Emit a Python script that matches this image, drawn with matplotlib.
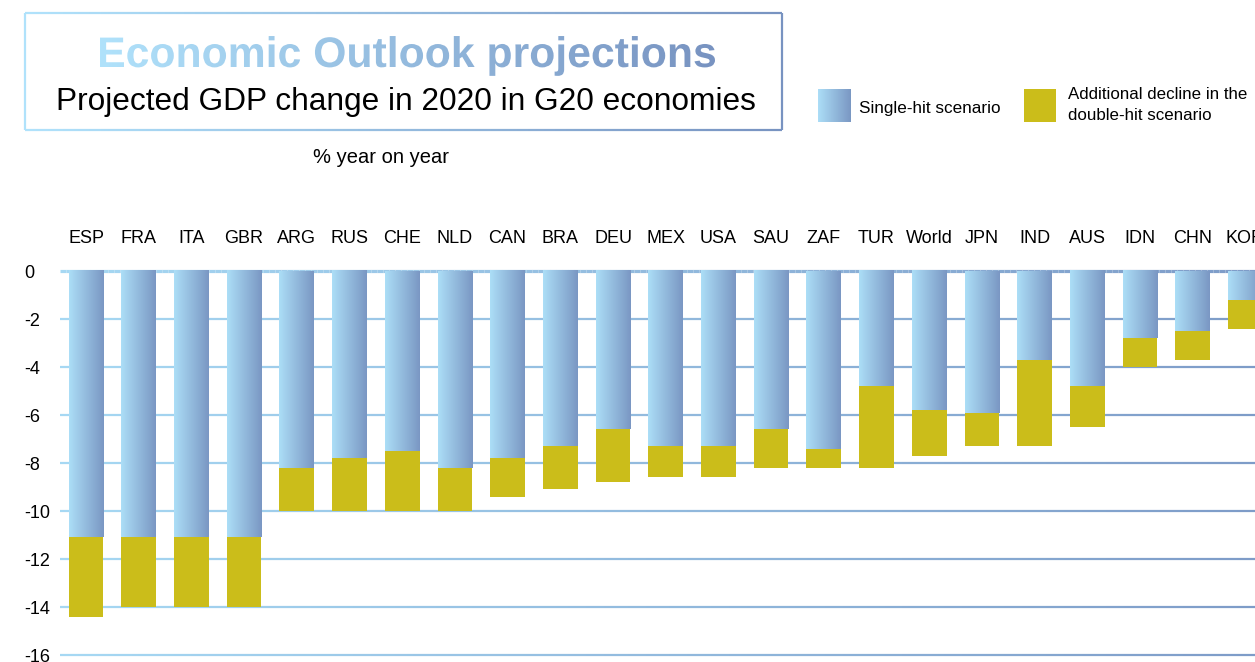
import numpy as np
import matplotlib
matplotlib.use('Agg')
import matplotlib.pyplot as plt
from matplotlib.collections import LineCollection
from matplotlib.colors import LinearSegmentedColormap
from matplotlib.textpath import TextPath
from matplotlib.patches import PathPatch, Rectangle
from matplotlib.font_manager import FontProperties
from matplotlib.transforms import Affine2D

plt.rcParams['font.family'] = ['Liberation Sans', 'DejaVu Sans']

# data (% year on year, 2020)
countries = ['ESP', 'FRA', 'ITA', 'GBR', 'ARG', 'RUS', 'CHE', 'NLD', 'CAN', 'BRA', 'DEU',
             'MEX', 'USA', 'SAU', 'ZAF', 'TUR', 'World', 'JPN', 'IND', 'AUS', 'IDN', 'CHN', 'KOR']
single_hit = [-11.1, -11.1, -11.1, -11.1, -8.2, -7.8, -7.5, -8.2, -7.8, -7.3, -6.6,
              -7.3, -7.3, -6.6, -7.4, -4.8, -5.8, -5.9, -3.7, -4.8, -2.8, -2.5, -1.2]
double_hit = [-14.4, -14.0, -14.0, -14.0, -10.0, -10.0, -10.0, -10.0, -9.4, -9.1, -8.8,
              -8.6, -8.6, -8.2, -8.2, -8.2, -7.7, -7.3, -7.3, -6.5, -4.0, -3.7, -2.4]
yticks = [0, -2, -4, -6, -8, -10, -12, -14, -16]

title = 'Economic Outlook projections'
subtitle = 'Projected GDP change in 2020 in G20 economies'
unit_label = '% year on year'
legend_single = 'Single-hit scenario'
legend_double = 'Additional decline in the\ndouble-hit scenario'

light = '#acdef7'
dark = '#7a97c3'
yellow = '#cbbd1a'
blue_cmap = LinearSegmentedColormap.from_list('bars', [light, dark])
grid_cmap = LinearSegmentedColormap.from_list('grid', ['#a6d8f3', '#7e9cc8'])
title_cmap = LinearSegmentedColormap.from_list('title', ['#b0e2fb', '#7893c1'])
grad = np.linspace(0, 1, 256).reshape(1, -1)

W, H = 1255, 662
fig = plt.figure(figsize=(W / 100, H / 100), dpi=100)

# main chart: bar pitch ~52.7 px, first bar centred at x=86 px, zero line at y=271 px
step = 52.7
ax = fig.add_axes([60 / W, 0, 1 - 60 / W, (H - 268) / H])
xmin, xmax = -26 / step, (W - 86) / step
ymin, ymax = -(H - 271) / 24.0, 3 / 24.0

x = np.arange(len(countries))
single = np.array(single_hit)
double = np.array(double_hit)
width = 0.66

# gradient grid lines
for t in yticks:
    xs = np.linspace(xmin, xmax, 201)
    segs = [[(xs[k], t), (xs[k + 1], t)] for k in range(200)]
    lc = LineCollection(segs, colors=grid_cmap(np.linspace(0, 1, 200)),
                        linewidths=2.3 if t == 0 else 1.6, zorder=1)
    ax.add_collection(lc)

# single-hit bars with horizontal gradient
for xi, s in zip(x, single):
    ax.imshow(grad, cmap=blue_cmap, extent=(xi - width / 2, xi + width / 2, s, 0),
              aspect='auto', interpolation='bilinear', zorder=2)

# additional decline
ax.bar(x, double - single, bottom=single, width=width, color=yellow, zorder=3)

ax.set_xlim(xmin, xmax)
ax.set_ylim(ymin, ymax)
for sp in ax.spines.values():
    sp.set_visible(False)
ax.set_xticks(x, countries)
ax.tick_params(axis='x', top=True, labeltop=True, bottom=False, labelbottom=False,
               length=0, pad=15, labelsize=13)
ax.set_yticks(yticks, [str(t) for t in yticks])
ax.tick_params(axis='y', length=0, pad=25.5, labelsize=13)
for lab in ax.get_yticklabels():
    lab.set_horizontalalignment('left')
ax.patch.set_visible(False)

# overlay in pixel coordinates for the header and legend
ov = fig.add_axes([0, 0, 1, 1], zorder=5)
ov.patch.set_visible(False)
ov.axis('off')

# title box with gradient border
bx0, bx1, by0, by1 = 25, 782, 13, 130
xs = np.linspace(bx0, bx1, 201)
segs, cols = [], []
for k in range(200):
    c = title_cmap(k / 199)
    segs += [[(xs[k], by0), (xs[k + 1], by0)], [(xs[k], by1), (xs[k + 1], by1)]]
    cols += [c, c]
segs += [[(bx0, by0), (bx0, by1)], [(bx1, by0), (bx1, by1)]]
cols += [title_cmap(0.0), title_cmap(1.0)]
ov.add_collection(LineCollection(segs, colors=cols, linewidths=1.6))

# gradient title text
fp = FontProperties(family='Liberation Sans', weight='bold')
tp = TextPath((0, 0), title, size=40, prop=fp)
bb = tp.get_extents()
tx0, tx1, base = 100, 715, 67
sc = (tx1 - tx0) / bb.width
tr = Affine2D().translate(-bb.x0, 0).scale(sc, -sc).translate(tx0, base) + ov.transData
clip = PathPatch(tp, transform=tr, facecolor='none', edgecolor='none')
ov.add_patch(clip)
im = ov.imshow(grad, cmap=title_cmap, extent=(tx0, tx1, base + 20, base - 40),
               aspect='auto', interpolation='bilinear')
im.set_clip_path(clip)

ov.text(56, 110, subtitle, fontsize=22.8, ha='left', va='baseline', color='black')
ov.text(313, 163, unit_label, fontsize=14.5, ha='left', va='baseline', color='black')

# legend
ov.imshow(grad, cmap=blue_cmap, extent=(818, 851, 122, 89), aspect='auto',
          interpolation='bilinear')
ov.text(859, 108, legend_single, fontsize=12.3, ha='left', va='center')
ov.add_patch(Rectangle((1024, 89), 32, 33, facecolor=yellow, edgecolor='none'))
ov.text(1068, 105, legend_double, fontsize=12.2, ha='left', va='center', linespacing=1.5)

ov.set_xlim(0, W)
ov.set_ylim(H, 0)

fig.savefig('out.png', dpi=100)
